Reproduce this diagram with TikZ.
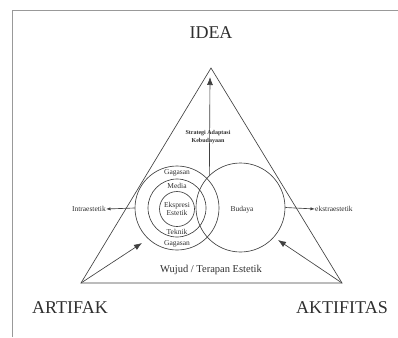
\documentclass[tikz,border=0pt]{standalone}
\usepackage{fontspec}
\setmainfont{Liberation Serif}
\usetikzlibrary{arrows.meta}
\definecolor{ln}{HTML}{404040}
\definecolor{tx}{HTML}{2E2E2E}
\begin{document}
\begin{tikzpicture}[x=1pt,y=-1pt,
  line/.style={draw=ln,line width=0.65pt},
  ring/.style={circle,draw=ln,line width=0.65pt,inner sep=0pt},
  big/.style={font=\fontsize{18}{20}\selectfont,text=tx,inner sep=0pt},
  small/.style={font=\fontsize{7.5}{8}\selectfont,text=tx,inner sep=0pt},
  tip/.style={-{Latex[length=8pt,width=6pt]}},
  stip/.style={-{Latex[length=4.5pt,width=3.2pt]}}]
\useasboundingbox (0,0) rectangle (398,337);
\draw[draw=gray!80,line width=0.8pt] (12,337) -- (12,10.5) -- (398,10.5);
% triangle
\coordinate (A) at (81,283);
\coordinate (B) at (342,283);
\coordinate (C) at (211,68);
\draw[line] (A) -- (B) -- (C) -- cycle;
% circles
\node[ring,minimum size=84pt] (gout) at (177,208) {};
\node[ring,minimum size=58pt] (gmid) at (177,208) {};
\node[ring,minimum size=35pt] (gin) at (177,209) {};
\node[ring,minimum size=89pt] (bud) at (240.5,207.5) {};
% labels
\node[big] (idea) at (211,33) {IDEA};
\node[big] (artifak) at (70,308) {ARTIFAK};
\node[big] (aktif) at (342,308) {AKTIFITAS};
\node[font=\fontsize{10.5}{12}\selectfont,text=tx,inner sep=0pt] (wujud) at (211,270) {Wujud / Terapan Estetik};
\node[small] (gag1) at (177,173) {Gagasan};
\node[small] (media) at (177,186) {Media};
\node[small,align=center,font=\fontsize{7.5}{8.8}\selectfont] (eks) at (177,209) {Ekspresi\\Estetik};
\node[small] (tek) at (177,232) {Teknik};
\node[small] (gag2) at (177,244) {Gagasan};
\node[small] (budaya) at (242,210) {Budaya};
\node[font=\bfseries\fontsize{6}{8}\selectfont,text=tx,align=center,inner sep=0pt] (strat) at (208,137) {Strategi Adaptasi\\Kebudayaan};
\node[small,anchor=east] (intra) at (106,209) {Intraestetik};
\node[small,anchor=west] (ekstra) at (315,209) {ekstraestetik};
% arrows
\coordinate (ideatip) at (210,77);
\coordinate (lt) at (142,243);
\coordinate (rt) at (278,240);
\draw[line,tip] (bud.134) -- (ideatip);
\draw[line,stip] (gout.west) -- (intra.east);
\draw[line,stip] (bud.east) -- (ekstra.west);
\draw[line,tip] (A) -- (lt);
\draw[line,tip] (B) -- (rt);
\end{tikzpicture}
\end{document}
